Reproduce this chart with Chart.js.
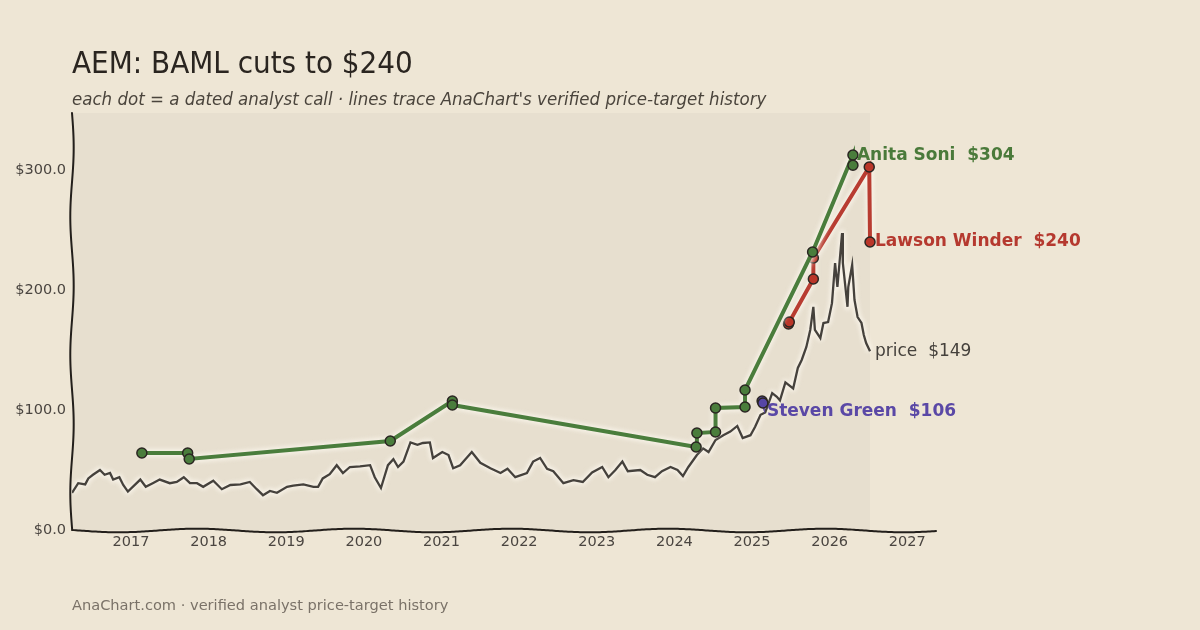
<!DOCTYPE html>
<html>
<head>
<meta charset="utf-8">
<script src="https://cdn.jsdelivr.net/npm/chart.js@4"></script>
<style>
  body { margin: 0; background: #EEE6D5; }
  #wrap { position: relative; width: 1200px; height: 630px; background: #EEE6D5; overflow: hidden; }
  #chart { position: absolute; left: 0; top: 0; }
  .title { position: absolute; left: 72px; top: 47px; font: 31px/31px "DejaVu Sans Condensed", "DejaVu Sans", sans-serif; color: #2a2520; white-space: nowrap; }
  .subtitle { position: absolute; left: 72px; top: 90px; font: italic 18.5px/18.5px "DejaVu Sans Condensed", "DejaVu Sans", sans-serif; color: #4a443c; white-space: nowrap; }
  .footer { position: absolute; left: 72px; top: 598px; font: 14.6px/14.6px "DejaVu Sans", sans-serif; color: #7a7268; white-space: nowrap; }
</style>
</head>
<body>
<div id="wrap">
  <canvas id="chart" width="1200" height="630"></canvas>
  <div class="title">AEM: BAML cuts to $240</div>
  <div class="subtitle">each dot = a dated analyst call · lines trace AnaChart's verified price-target history</div>
  <div class="footer">AnaChart.com · verified analyst price-target history</div>
</div>
<script>
// share price (decimal year, $)
const priceYears = [2016.24, 2016.32, 2016.41, 2016.45, 2016.51, 2016.60, 2016.66, 2016.73, 2016.77, 2016.85, 2016.90, 2016.96,
  2017.12, 2017.19, 2017.28, 2017.37, 2017.50, 2017.59, 2017.68, 2017.76, 2017.85, 2017.93,
  2018.06, 2018.17, 2018.28, 2018.41, 2018.53, 2018.62, 2018.70, 2018.79, 2018.88,
  2019.01, 2019.09, 2019.22, 2019.35, 2019.41, 2019.47, 2019.56, 2019.65, 2019.73, 2019.82, 2019.95,
  2020.08, 2020.14, 2020.22, 2020.31, 2020.38, 2020.44, 2020.51, 2020.60, 2020.69, 2020.76, 2020.85, 2020.89,
  2021.01, 2021.09, 2021.15, 2021.24, 2021.39, 2021.50, 2021.63, 2021.76, 2021.85, 2021.95,
  2022.10, 2022.18, 2022.27, 2022.36, 2022.44, 2022.57, 2022.70, 2022.82, 2022.94,
  2023.07, 2023.15, 2023.24, 2023.33, 2023.40, 2023.56, 2023.65, 2023.75, 2023.84, 2023.95,
  2024.04, 2024.11, 2024.18, 2024.29, 2024.37, 2024.44, 2024.53, 2024.63, 2024.72, 2024.81, 2024.88, 2024.98,
  2025.04, 2025.11, 2025.17, 2025.26, 2025.32, 2025.36, 2025.43, 2025.53, 2025.59, 2025.64, 2025.70, 2025.75, 2025.79, 2025.81, 2025.88, 2025.92, 2025.98,
  2026.03, 2026.07, 2026.10, 2026.16, 2026.17, 2026.23, 2026.24, 2026.29, 2026.32, 2026.36, 2026.41, 2026.44, 2026.47, 2026.52];
const priceValues = [31, 39, 38, 43, 46, 50, 46, 47.5, 42, 44, 37.5, 32,
  42, 36, 39, 42, 39, 40, 44, 39, 39, 36,
  41, 34, 37.5, 38, 40, 34, 29, 32.5, 31,
  36, 37, 38, 36, 36, 43, 46.5, 54, 47.5, 52.5, 53,
  54, 44, 35, 54, 59, 52.5, 57, 73, 71, 72.5, 73, 60,
  65, 62.5, 51.5, 54, 65, 56, 51.5, 47.5, 51, 44,
  47.5, 57, 60, 51, 49, 39, 41.5, 40, 48,
  52.5, 44, 50, 57, 49, 50, 46, 44, 49, 52.5,
  50, 45, 52.5, 62.5, 68, 65, 75, 79, 82, 86.7, 76.7, 79,
  86, 96, 98, 114, 111, 108, 123, 118, 135, 141.7, 152.5, 166.7, 186, 166.7, 160, 172.5, 173.3,
  189, 222.5, 202.5, 247.5, 222.5, 186, 202.5, 221, 191.7, 177.5, 172.5, 162.5, 155.8, 149];

// analyst price targets
const anitaYears = [2017.14, 2017.73, 2017.75, 2020.34, 2021.14, 2021.14, 2024.28, 2024.29, 2024.53, 2024.53, 2024.91, 2024.91, 2025.78, 2026.30, 2026.30];
const anitaTargets = [64.2, 64.2, 59.2, 74.2, 107.5, 104.2, 69.2, 80.8, 81.7, 101.7, 102.5, 116.7, 231.7, 312.5, 304];
const lawsonYears = [2025.47, 2025.48, 2025.79, 2025.79, 2026.51, 2026.52];
const lawsonTargets = [171.7, 173.3, 209.2, 226.7, 302.5, 240];
const stevenYears = [2025.13, 2025.14];
const stevenTargets = [107.5, 105.8];

const xTickYears = [2017, 2018, 2019, 2020, 2021, 2022, 2023, 2024, 2025, 2026, 2027];
const yTickValues = [0, 100, 200, 300];

function pts(xs, ys) { return xs.map((x, i) => ({ x: x, y: ys[i] })); }

// plot background up to the last price date, plus hand-drawn looking spines
const backdrop = {
  id: 'backdrop',
  beforeDatasetsDraw(chart) {
    const { ctx, chartArea: a, scales } = chart;
    const xEnd = scales.x.getPixelForValue(priceYears[priceYears.length - 1]);
    ctx.save();
    ctx.fillStyle = '#E7DFCF';
    ctx.fillRect(a.left, a.top, xEnd - a.left, a.bottom - a.top);
    ctx.restore();
  },
  afterDatasetsDraw(chart) {
    const { ctx, chartArea: a } = chart;
    ctx.save();
    ctx.strokeStyle = '#231f1b';
    ctx.lineWidth = 2;
    ctx.lineCap = 'round';
    ctx.beginPath();
    for (let y = a.top; y <= a.bottom; y += 2) {
      const x = a.left + 1.7 * Math.sin((y - a.top) / 22);
      if (y === a.top) ctx.moveTo(x, y); else ctx.lineTo(x, y);
    }
    ctx.stroke();
    ctx.beginPath();
    for (let x = a.left; x <= a.right; x += 2) {
      const y = a.bottom + 0.5 - 1.8 * Math.cos((x - 40) / 25);
      if (x === a.left) ctx.moveTo(x, y); else ctx.lineTo(x, y);
    }
    ctx.stroke();
    ctx.restore();
  }
};

// soft light halo behind every line (drawn before the line itself)
const halo = {
  id: 'halo',
  beforeDatasetDraw(chart, args) {
    const ctx = chart.ctx;
    const meta = args.meta;
    const ds = chart.data.datasets[args.index];
    if (meta.data.length < 2) return;
    ctx.save();
    ctx.filter = 'blur(2px)';
    ctx.strokeStyle = 'rgba(250,246,236,0.85)';
    ctx.lineWidth = ds.borderWidth + 4;
    ctx.lineJoin = 'round';
    ctx.beginPath();
    meta.data.forEach((p, i) => { if (i === 0) ctx.moveTo(p.x, p.y); else ctx.lineTo(p.x, p.y); });
    ctx.stroke();
    ctx.restore();
  }
};

// name + latest value at the end of each series
const endLabels = {
  id: 'endLabels',
  afterDatasetsDraw(chart) {
    const ctx = chart.ctx;
    chart.data.datasets.forEach((ds, i) => {
      const meta = chart.getDatasetMeta(i);
      const last = meta.data[meta.data.length - 1];
      const v = ds.data[ds.data.length - 1].y;
      ctx.save();
      ctx.font = ds.labelFont;
      ctx.fillStyle = ds.labelColor;
      ctx.textBaseline = 'middle';
      ctx.fillText(ds.labelName + '  $' + Math.round(v), last.x + ds.labelDx, last.y + ds.labelDy);
      ctx.restore();
    });
  }
};

const analystStyle = {
  borderWidth: 4,
  pointRadius: 5,
  pointBorderWidth: 1.5,
  pointBorderColor: '#2b2622',
  tension: 0
};

new Chart(document.getElementById('chart'), {
  type: 'line',
  data: {
    datasets: [
      Object.assign({
        data: pts(anitaYears, anitaTargets),
        borderColor: '#4A7D3C', backgroundColor: '#4A7D3C', pointBackgroundColor: '#4A7D3C',
        labelName: 'Anita Soni', labelColor: '#4A7A3A', labelFont: 'bold 17px "DejaVu Sans"', labelDx: 4, labelDy: -10
      }, analystStyle),
      Object.assign({
        data: pts(lawsonYears, lawsonTargets),
        borderColor: '#B83C31', backgroundColor: '#BA3629', pointBackgroundColor: '#BA3629',
        labelName: 'Lawson Winder', labelColor: '#B5392F', labelFont: 'bold 17px "DejaVu Sans"', labelDx: 5, labelDy: 0
      }, analystStyle),
      Object.assign({
        data: pts(stevenYears, stevenTargets),
        borderColor: '#5B4AA0', backgroundColor: '#5646A6', pointBackgroundColor: '#5646A6',
        labelName: 'Steven Green', labelColor: '#5A48A6', labelFont: 'bold 17px "DejaVu Sans"', labelDx: 4, labelDy: 9
      }, analystStyle),
      {
        data: pts(priceYears, priceValues),
        borderColor: '#45413C', borderWidth: 2.3, pointRadius: 0, tension: 0,
        labelName: 'price', labelColor: '#45413C', labelFont: '17px "DejaVu Sans"', labelDx: 5, labelDy: 0
      }
    ]
  },
  options: {
    responsive: false,
    animation: false,
    devicePixelRatio: 1,
    layout: { padding: { top: 113, right: 264, bottom: 0, left: 0 } },
    plugins: { legend: { display: false }, tooltip: { enabled: false } },
    scales: {
      x: {
        type: 'linear',
        min: 2016.24,
        max: 2027.37,
        grid: { display: false, drawTicks: false },
        border: { display: false },
        afterBuildTicks: s => { s.ticks = xTickYears.map(v => ({ value: v })); },
        afterFit: s => { s.height = 100; },
        ticks: {
          padding: 4,
          color: '#4a4540',
          font: { family: 'DejaVu Sans', size: 14.5 },
          callback: v => String(v)
        }
      },
      y: {
        min: 0,
        max: 347.5,
        grid: { display: false, drawTicks: false },
        border: { display: false },
        afterBuildTicks: s => { s.ticks = yTickValues.map(v => ({ value: v })); },
        afterFit: s => { s.width = 72; },
        ticks: {
          padding: 6,
          color: '#4a4540',
          font: { family: 'DejaVu Sans', size: 14.5 },
          callback: v => '$' + v.toFixed(1)
        }
      }
    }
  },
  plugins: [backdrop, halo, endLabels]
});
</script>
</body>
</html>
